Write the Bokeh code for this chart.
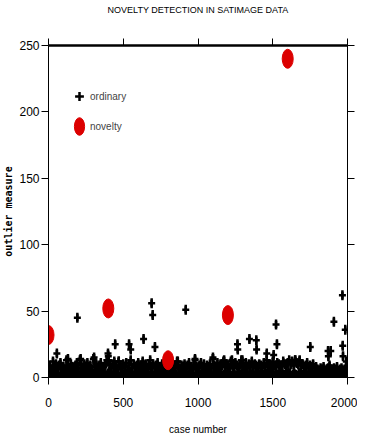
import math
from bokeh.plotting import figure
from bokeh.models import (ColumnDataSource, Range1d, LinearAxis, FixedTicker,
                          Legend, LegendItem, CustomJSTickFormatter)
from bokeh.embed import file_html
from bokeh.resources import INLINE

# ---------------- data ----------------
title_text = "NOVELTY DETECTION IN SATIMAGE DATA"
x_ticks = [0, 500, 1000, 1500, 2000]
y_ticks = [0, 50, 100, 150, 200, 250]

# bulk of ordinary cases: upper edge of the dense band (every 10th case)
band_top_cases = list(range(0, 2000, 10))
band_top_values = [
    7, 9, 6, 12, 8, 10, 6, 9, 11, 7,
    8, 6, 13, 9, 7, 10, 8, 6, 9, 11,
    7, 13, 9, 6, 10, 8, 11, 7, 9, 6,
    14, 8, 10, 7, 9, 11, 6, 8, 10, 13,
    16, 9, 7, 10, 12, 8, 6, 12, 9, 7,
    10, 8, 11, 6, 9, 13, 7, 10, 8, 9,
    11, 7, 9, 12, 8, 10, 6, 9, 13, 8,
    10, 7, 9, 11, 8, 6, 10, 9, 7, 8,
    9, 6, 8, 10, 7, 9, 12, 8, 6, 9,
    8, 10, 7, 9, 11, 8, 6, 9, 13, 8,
    7, 9, 11, 8, 10, 6, 9, 8, 10, 7,
    14, 9, 8, 11, 7, 10, 9, 12, 8, 10,
    9, 7, 12, 10, 8, 11, 9, 7, 10, 13,
    9, 8, 11, 7, 10, 9, 12, 8, 10, 9,
    8, 10, 9, 7, 11, 8, 13, 9, 10, 8,
    12, 9, 8, 11, 10, 8, 9, 12, 10, 9,
    11, 13, 10, 12, 9, 13, 11, 10, 12, 9,
    10, 8, 9, 11, 7, 9, 8, 10, 7, 8,
    6, 5, 7, 6, 8, 5, 6, 7, 9, 6,
    5, 7, 6, 8, 5, 6, 7, 5, 6, 8,
]
# lower part of the dense band
band_low_cases = list(range(5, 2000, 10))
band_low_values = [
    2, 3, 1, 4, 2, 3, 2, 1, 3, 2,
    3, 1, 2, 4, 3, 2, 1, 3, 2, 4,
    1, 3, 2, 2, 4, 1, 3, 2, 3, 1,
    2, 4, 3, 1, 2, 3, 2, 4, 1, 3,
    3, 2, 1, 3, 4, 2, 3, 1, 2, 3,
    2, 1, 3, 2, 3, 4, 1, 2, 3, 2,
    4, 2, 3, 1, 2, 3, 2, 1, 4, 2,
    1, 3, 2, 4, 2, 1, 3, 2, 3, 1,
    3, 2, 4, 1, 3, 2, 1, 3, 2, 4,
    2, 3, 1, 2, 4, 3, 2, 1, 3, 2,
    1, 2, 3, 4, 1, 3, 2, 3, 2, 1,
    3, 1, 2, 3, 2, 4, 1, 2, 3, 2,
    2, 4, 1, 3, 2, 1, 3, 4, 2, 3,
    1, 3, 2, 1, 3, 2, 4, 1, 3, 2,
    3, 2, 4, 2, 1, 3, 2, 3, 1, 4,
    2, 1, 3, 2, 4, 1, 3, 2, 2, 3,
    4, 3, 1, 2, 3, 2, 1, 3, 4, 2,
    1, 2, 3, 1, 2, 4, 3, 2, 1, 3,
    2, 3, 1, 4, 2, 3, 1, 2, 3, 2,
    3, 1, 2, 3, 1, 2, 4, 1, 2, 3,
]
# ordinary cases standing out above the band
spike_cases = [56, 130, 193, 215, 305, 398, 402, 446, 470, 539, 550, 636, 690,
               697, 712, 865, 918, 980, 1100, 1175, 1227, 1264, 1266, 1297,
               1344, 1390, 1392, 1460, 1506, 1522, 1528, 1650, 1680, 1751,
               1870, 1872, 1888, 1909, 1966, 1968, 1970, 1985, 1992]
spike_values = [18, 14, 45, 14, 15, 18, 13, 25, 12, 25, 21, 29, 56,
                47, 23, 12, 51, 14, 15, 13, 13, 25, 21, 13,
                29, 28, 21, 18, 17, 40, 25, 13, 13, 23,
                20, 16, 20, 42, 62, 24, 16, 36, 12]

novelty_cases = [0, 400, 800, 1200, 1600]
novelty_values = [32, 52, 13, 47, 240]

# ---------------- plot ----------------
FONT = "Liberation Sans"

ord_src = ColumnDataSource(dict(
    case=band_top_cases + band_low_cases + spike_cases,
    value=band_top_values + band_low_values + spike_values,
))
nov_src = ColumnDataSource(dict(case=novelty_cases, value=novelty_values))

p = figure(width=357, height=438, output_backend="svg", toolbar_location=None,
           x_range=Range1d(0, 2000), y_range=Range1d(0, 250),
           min_border_left=39, min_border_right=10,
           min_border_top=45, min_border_bottom=61)
p.outline_line_color = None
p.xgrid.visible = False
p.ygrid.visible = False
p.background_fill_color = "white"
p.border_fill_color = "white"

for ax in (p.xaxis[0], p.yaxis[0]):
    ax.major_tick_out = 7
    ax.major_tick_in = 0
    ax.minor_tick_out = 0
    ax.minor_tick_in = 0
    ax.major_label_text_font = FONT
    ax.major_label_text_font_size = "12px"
    ax.major_label_text_color = "black"
    ax.axis_line_color = "black"
    ax.major_tick_line_color = "black"
    ax.axis_label_text_color = "black"

p.xaxis.ticker = FixedTicker(ticks=x_ticks)
p.yaxis.ticker = FixedTicker(ticks=y_ticks)
p.xaxis.axis_label = "case number"
p.xaxis.axis_label_text_font = FONT
p.xaxis.axis_label_text_font_size = "10px"
p.xaxis.axis_label_text_font_style = "normal"
p.xaxis.major_label_standoff = 13
p.xaxis.axis_label_standoff = 14

p.yaxis.axis_label = "outlier measure"
p.yaxis.axis_label_text_font = "DejaVu Sans Mono"
p.yaxis.axis_label_text_font_size = "10px"
p.yaxis.axis_label_text_font_style = "bold"
p.yaxis.major_label_standoff = 2
p.yaxis.axis_label_standoff = 2

blank = CustomJSTickFormatter(code="return ''")
# top axis: thick frame line with outward ticks, carries the chart title
top_axis = LinearAxis(ticker=FixedTicker(ticks=x_ticks), formatter=blank,
                      major_label_standoff=0,
                      major_tick_out=7, major_tick_in=0,
                      minor_tick_out=0, minor_tick_in=0,
                      axis_line_width=2.5, axis_line_color="black",
                      axis_label=title_text, axis_label_standoff=24,
                      axis_label_text_font=FONT,
                      axis_label_text_font_size="9px",
                      axis_label_text_font_style="normal",
                      axis_label_text_color="black")
right_axis = LinearAxis(ticker=FixedTicker(ticks=y_ticks), formatter=blank,
                        major_label_standoff=0,
                        major_tick_out=7, major_tick_in=0,
                        minor_tick_out=0, minor_tick_in=0,
                        axis_line_color="black")
p.add_layout(top_axis, "above")
p.add_layout(right_axis, "right")

r_cross = p.scatter("case", "value", source=ord_src, marker="cross", size=7,
                    line_width=2.5, line_color="black")
p.scatter("case", "value", source=ord_src, marker="dash", size=10,
          angle=math.pi / 2, line_width=2.5, line_color="black")
r_n = p.ellipse("case", "value", source=nov_src, width=11, height=19,
                width_units="screen", height_units="screen",
                fill_color="#dc0000", line_color="#dc0000")

legend = Legend(items=[LegendItem(label="ordinary", renderers=[r_cross]),
                       LegendItem(label="novelty", renderers=[r_n])],
                location=(20, 239), border_line_color=None,
                background_fill_alpha=0, padding=0, margin=0, spacing=6,
                glyph_width=22, glyph_height=24, label_standoff=0,
                label_text_font=FONT, label_text_font_size="10px")
p.add_layout(legend, "center")

open("out.html", "w").write(file_html(p, INLINE))
